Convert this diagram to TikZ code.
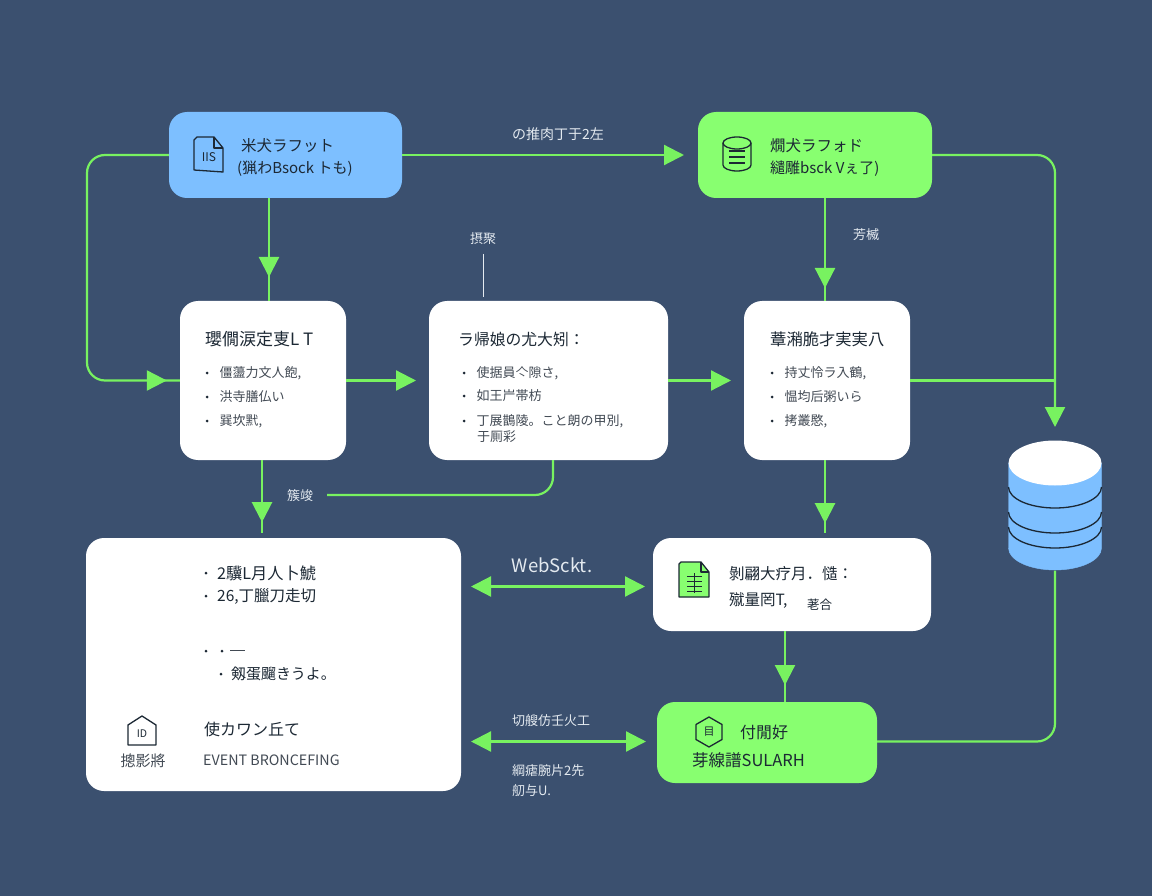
\documentclass[tikz,border=0pt]{standalone}
\usepackage{fontspec}
\setmainfont{Noto Sans CJK JP}
\usetikzlibrary{arrows.meta,decorations.markings}
\definecolor{bgblue}{RGB}{59,80,111}
\definecolor{skyfill}{RGB}{125,191,255}
\definecolor{limefill}{RGB}{136,255,112}
\definecolor{flowgreen}{RGB}{120,242,96}
\definecolor{inkdark}{RGB}{28,40,52}
\definecolor{inkgrey}{RGB}{66,74,84}
\definecolor{labelwhite}{RGB}{228,234,240}
\newcommand{\px}[1]{\fontsize{#1}{#1}\selectfont}
\tikzset{
  card/.style={rounded corners=18pt,inner sep=0pt,minimum width=#1},
  flow/.style={draw=flowgreen,line width=2.2pt},
  both/.style={flow,{Triangle[length=20pt,width=20pt,fill=flowgreen]}-{Triangle[length=20pt,width=20pt,fill=flowgreen]}},
  oneway/.style={flow,-{Triangle[length=20pt,width=20pt,fill=flowgreen]}},
  headat/.style={postaction={decorate},decoration={markings,
    mark=at position #1 with {\arrow{Triangle[length=20pt,width=20pt,fill=flowgreen,color=flowgreen]}}}},
  txt/.style={anchor=west,inner sep=0pt,text=#1},
  flowlabel/.style={inner sep=0pt,text=labelwhite,font=\px{13}},
  dot/.style={circle,fill=inkdark,inner sep=0pt,minimum size=3pt},
  iconline/.style={draw=inkdark,line width=1.3pt,line join=round}
}
\newcommand{\bulletrow}[4]{%
  \node[dot] (#1d) at (#2,#3) {};
  \node[txt=inkgrey,font=\px{13}] (#1t) at (#2+12.5,#3) {#4};
}
\begin{document}
\begin{tikzpicture}[x=1pt,y=-1pt]
  \fill[bgblue] (0,0) rectangle (1152,896);
  \useasboundingbox (0,0) rectangle (1152,896);

  % boxes
  \node[card=233pt,fill=skyfill,minimum height=86pt] (srcdraft) at (285.5,155) {};
  \node[card=234pt,fill=limefill,minimum height=86pt] (dstdraft) at (815,155) {};
  \node[card=166pt,fill=white,minimum height=159pt] (stepa) at (263,380.5) {};
  \node[card=239pt,fill=white,minimum height=159pt] (stepb) at (548.5,380.5) {};
  \node[card=166pt,fill=white,minimum height=159pt] (stepc) at (827,380.5) {};
  \node[card=375pt,fill=white,minimum height=253pt] (hub) at (273.5,664.5) {};
  \node[card=278pt,fill=white,minimum height=93pt] (docbox) at (792,584.5) {};
  \node[card=220pt,fill=limefill,minimum height=81pt] (sink) at (767,742.5) {};
  \node[inner sep=0pt,minimum width=93pt,minimum height=130pt] (store) at (1055,505.5) {};

  % free ends
  \coordinate (leftbus) at (87,268);
  \coordinate (draftend) at (684,155);
  \coordinate (rightbus) at (1055,268);
  \coordinate (storetip) at (1055,427);
  \coordinate (junction) at (1055,380.5);
  \coordinate (atip) at (416,380.5);
  \coordinate (btip) at (731,380.5);
  \coordinate (backend) at (327,495);
  \coordinate (backdown) at (553,495);
  \coordinate (astem) at (262,533);
  \coordinate (cstem) at (825,533);
  \coordinate (wsleft) at (471,586.5);
  \coordinate (wsright) at (645,586.5);
  \coordinate (evleft) at (471,741.5);
  \coordinate (evright) at (646,741.5);
  \coordinate (notetop) at (483,254);
  \coordinate (notebot) at (483,297);

  % connectors
  \draw[flow,rounded corners=18pt,headat=-13pt] (srcdraft.west) -| (leftbus) |- (stepa.west);
  \draw[oneway] (srcdraft.east) -- (draftend);
  \draw[flow,headat=79pt] (269,198) -- (269,301);
  \draw[flow,rounded corners=18pt,-{Triangle[length=20pt,width=20pt,fill=flowgreen]}] (dstdraft.east) -| (rightbus) -- (storetip);
  \draw[flow,headat=90pt] (825,198) -- (825,301);
  \draw[oneway] (stepa.east) -- (atip);
  \draw[oneway] (stepb.east) -- (btip);
  \draw[flow] (stepc.east) -- (junction);
  \draw[flow,headat=62pt] (astem |- stepa.south) -- (astem);
  \draw[flow,rounded corners=18pt] (backdown |- stepb.south) -- (backdown) -- (backend);
  \draw[flow,headat=63pt] (cstem |- stepc.south) -- (cstem);
  \draw[both] (wsleft) -- (wsright);
  \draw[both] (evleft) -- (evright);
  \draw[flow,headat=54pt] (785,631) -- (785,702);
  \draw[flow,rounded corners=18pt] ([yshift=1pt]sink.east) -| (store.south);
  \draw[labelwhite,line width=1pt] (notetop) -- (notebot);

  % database
  \draw[skyfill,fill=skyfill] (1008.5,463) -- (1008.5,548) arc[start angle=180,end angle=0,x radius=46.5,y radius=22] -- (1101.5,463) -- cycle;
  \foreach \stripe in {487,512,527}
    \draw[inkdark,line width=1.3pt] (1008.5,\stripe) arc[start angle=180,end angle=0,x radius=46.5,y radius=21];
  \fill[white] (1055,463) ellipse[x radius=46.5,y radius=22.5];

  % source draft
  \draw[iconline] (194,140) -- (194,170) -- (223,172) -- (223,148) -- (214,137) -- (197,137) -- cycle;
  \draw[iconline] (214,137) -- (214,148) -- (223,148);
  \node[inkdark,inner sep=0pt,font=\px{12}] (srcicon) at (209,157.5) {IIS};
  \node[txt=inkdark,font=\px{15.5}] (srcone) at (241,146) {米犬ラフット};
  \node[txt=inkdark,font=\px{15}] (srctwo) at (237,169) {(猟わBsock トも)};

  % target draft
  \draw[iconline,fill=limefill] (723,143) -- (723,165) arc[start angle=180,end angle=0,x radius=14,y radius=6] -- (751,143);
  \draw[iconline] (737,143) ellipse[x radius=14,y radius=6];
  \foreach \bar in {151,157,163}
    \draw[iconline] (729,\bar) -- (745,\bar);
  \node[txt=inkdark,font=\px{15.5}] (dstone) at (770,146) {燗犬ラフォド};
  \node[txt=inkdark,font=\px{15}] (dsttwo) at (770,169) {繾雕bsck Vぇ了)};

  % step a
  \node[txt=inkdark,font=\px{17}] (atitle) at (205,339) {瓔僩涙定叓L T};
  \bulletrow{aone}{207}{373}{僵蘯力文人飽,}
  \bulletrow{atwo}{207}{397}{洪寺膳仏い}
  \bulletrow{athree}{207}{421}{巽坎黓,}

  % step b
  \node[txt=inkdark,font=\px{15.8}] (btitle) at (458,339) {ラ帰娘の尤大矧：};
  \bulletrow{bone}{464}{373}{使据員亽隙さ,}
  \bulletrow{btwo}{464}{396}{如王屵帯枋}
  \bulletrow{bthree}{464}{421}{丁展鵲陵。こと朗の甲別,}
  \node[txt=inkgrey,font=\px{13}] (bfour) at (477,437) {于厠彩};

  % step c
  \node[txt=inkdark,font=\px{16.3}] (ctitle) at (770,339) {蔁潲脆才実実八};
  \bulletrow{cone}{772}{373}{持丈怜ラ入鶴,}
  \bulletrow{ctwo}{772}{397}{愠均后粥いら}
  \bulletrow{cthree}{772}{421}{拷叢愍,}

  % hub
  \node[dot] (hubdota) at (206,573) {};
  \node[txt=inkdark,font=\px{16.2}] (hubtexta) at (217,573) {2驥L月人卜鯱};
  \node[dot] (hubdotb) at (206,596) {};
  \node[txt=inkdark,font=\px{15.5}] (hubtextb) at (217,596) {26,丁臘刀走切};
  \node[dot] (hubdotc) at (206,651) {};
  \node[dot] (hubdotd) at (222,651) {};
  \draw[inkgrey,line width=1pt] (230,650) -- (245,650);
  \node[dot] (hubdote) at (221,674) {};
  \node[txt=inkdark,font=\px{15}] (hubtextc) at (231,674) {剱蛋飀きうよ。};
  \draw[iconline] (128,725) -- (142,716) -- (156,725) -- (156,745) -- (128,745) -- cycle;
  \node[inkdark,inner sep=0pt,font=\px{10.5}] (hubicon) at (142,734) {ID};
  \node[inkgrey,inner sep=0pt,font=\px{15}] (hubcap) at (143,761) {摠影將};
  \node[txt=inkdark,font=\px{16}] (hubtitle) at (204,729) {使カワン丘て};
  \node[txt=inkgrey,font=\px{14.3}] (hubevent) at (203,760) {EVENT BRONCEFING};

  % document
  \draw[iconline,fill=limefill] (679,564) -- (679,597) -- (709,597) -- (709,572) -- (701,562) -- (681,562) -- cycle;
  \draw[iconline] (701,562) -- (701,572) -- (709,572);
  \foreach \bar in {576,581,586,591}
    \draw[inkdark,line width=1pt] (687,\bar) -- (702,\bar);
  \draw[inkdark,line width=1pt] (694.5,573) -- (694.5,593);
  \node[txt=inkdark,font=\px{15.5}] (docone) at (729,574) {剝翩大疗月．慥：};
  \node[txt=inkdark,font=\px{15.5}] (doctwo) at (729,600) {殧量罔T,};
  \node[txt=inkdark,font=\px{12.5}] (docthree) at (807,605) {荖合};

  % sink
  \draw[iconline] (709,717) -- (722,724.5) -- (722,739.5) -- (709,747) -- (696,739.5) -- (696,724.5) -- cycle;
  \node[inkdark,inner sep=0pt,font=\px{11}] (sinkicon) at (709,732) {目};
  \node[txt=inkdark,font=\px{16}] (sinkone) at (740,732) {付閒好};
  \node[txt=inkdark,font=\px{16.5}] (sinktwo) at (692,760) {芽線譜SULARH};

  % labels
  \node[flowlabel,font=\px{14}] (lbltop) at (558,134) {の推肉丁于2左};
  \node[flowlabel] (lblnote) at (483,239) {摂聚};
  \node[flowlabel] (lblright) at (866,235) {芳楲};
  \node[flowlabel] (lblback) at (300,496) {簇竣};
  \node[inner sep=0pt,text=labelwhite,font=\px{18.5}] (lblws) at (552,565) {WebSckt.};
  \node[flowlabel] (lblev) at (551,721) {切艘仿壬火工};
  \node[flowlabel,anchor=west] (lbllow) at (512,771) {綱瘧腕片2先};
  \node[flowlabel,anchor=west] (lbllowb) at (512,791) {舠与U.};
\end{tikzpicture}
\end{document}
